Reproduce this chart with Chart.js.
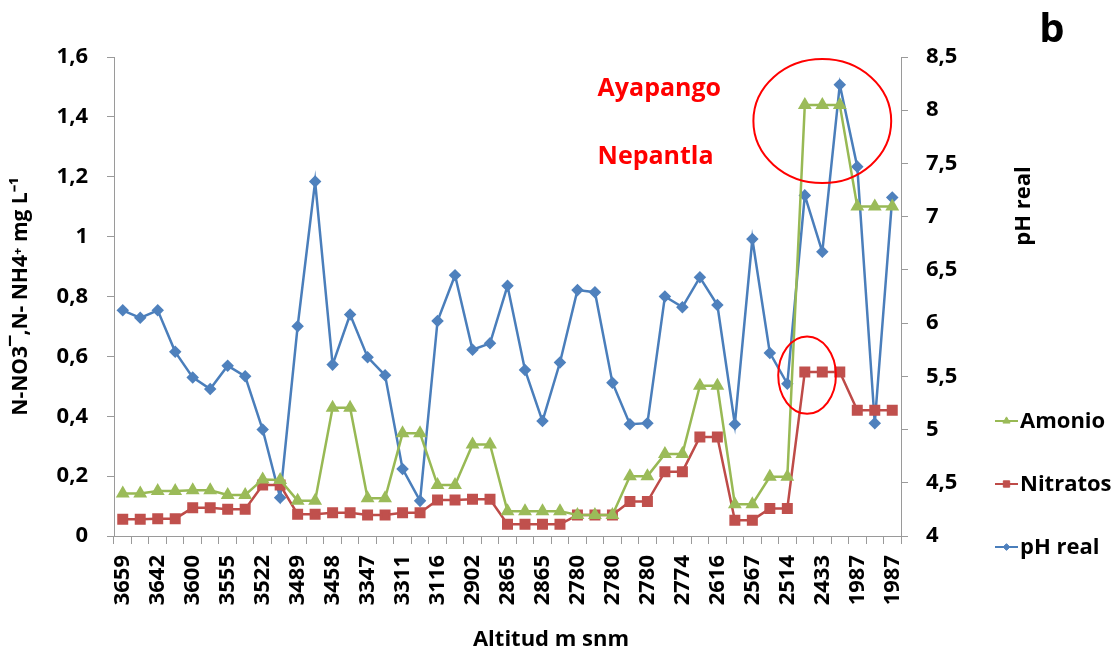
<!DOCTYPE html>
<html>
<head>
<meta charset="utf-8">
<script src="https://cdn.jsdelivr.net/npm/chart.js@4.4.1/dist/chart.umd.min.js"></script>
<style>html,body{margin:0;background:#fff}canvas{display:block}</style>
</head>
<body>
<canvas id="chart" width="1117" height="657"></canvas>
<script>
// altitud de cada punto de muestreo (solo se rotulan los pares)
const altitudes = ['3659','3659','3642','3642','3600','3600','3555','3555','3522','3522','3489','3489','3458','3458','3347','3347','3311','3311','3116','3116','2902','2902','2865','2865','2865','2865','2780','2780','2780','2780','2780','2780','2774','2774','2616','2616','2567','2567','2514','2514','2433','2433','1987','1987','1987'];
const amonio = [0.142,0.142,0.150,0.150,0.153,0.153,0.137,0.137,0.189,0.187,0.118,0.118,0.428,0.428,0.126,0.126,0.343,0.343,0.170,0.170,0.306,0.306,0.083,0.083,0.083,0.083,0.070,0.070,0.070,0.200,0.200,0.274,0.274,0.502,0.502,0.106,0.106,0.198,0.198,1.440,1.440,1.440,1.101,1.101,1.101];
const nitratos = [0.056,0.056,0.058,0.058,0.094,0.094,0.089,0.089,0.170,0.170,0.073,0.073,0.078,0.078,0.070,0.070,0.078,0.078,0.120,0.120,0.123,0.123,0.039,0.039,0.039,0.039,0.070,0.070,0.070,0.115,0.115,0.215,0.215,0.331,0.331,0.053,0.053,0.092,0.092,0.548,0.548,0.548,0.420,0.420,0.420];
const phReal = [6.12,6.05,6.12,5.73,5.49,5.38,5.60,5.50,5.00,4.36,5.97,7.33,5.61,6.08,5.68,5.51,4.63,4.33,6.02,6.45,5.75,5.81,6.35,5.56,5.08,5.63,6.31,6.29,5.44,5.05,5.06,6.25,6.15,6.43,6.17,5.05,6.79,5.72,5.43,7.20,6.67,8.24,7.47,5.06,7.18];

// elipses rojas: centro (índice, valor eje izq.) y radios
const circles = [[40,1.386,3.94,0.207],[39.13,0.537,1.65,0.129]];
const sites = [['Ayapango',27.15,1.495],['Nepantla',27.15,1.265]];

const FONT = '"Open Sans", sans-serif';
const comma = v => String(Math.round(v*10)/10).replace('.', ',');
const axisGray = '#9a9a9a';

const extras = {
  id: 'extras',
  afterDraw(chart){
    const ctx = chart.ctx, x = chart.scales.x, y = chart.scales.y;
    ctx.save();
    // elipses
    ctx.strokeStyle = '#ff0000'; ctx.lineWidth = 2;
    circles.forEach(([i,v,ri,rv]) => {
      const cx = x.getPixelForValue(i), cy = y.getPixelForValue(v);
      const rx = x.getPixelForValue(i+ri) - cx, ry = cy - y.getPixelForValue(v+rv);
      ctx.beginPath(); ctx.ellipse(cx, cy, rx, ry, 0, 0, Math.PI*2); ctx.stroke();
    });
    ctx.fillStyle = '#ff0000'; ctx.font = 'bold 25px ' + FONT;
    ctx.textAlign = 'left'; ctx.textBaseline = 'middle';
    sites.forEach(([t,i,v]) => ctx.fillText(t, x.getPixelForValue(i), y.getPixelForValue(v)));

    // títulos
    ctx.fillStyle = '#000';
    ctx.font = 'bold 22px ' + FONT; ctx.textAlign = 'center';
    ctx.fillText('Altitud m snm', 551, 640);
    ctx.save(); ctx.translate(1024, 206); ctx.rotate(-Math.PI/2);
    ctx.fillText('pH real', 0, 0); ctx.restore();
    ctx.font = 'bold 40px ' + FONT; ctx.textBaseline = 'alphabetic';
    ctx.fillText('b', 1052, 42);

    // leyenda
    ctx.font = 'bold 22px ' + FONT; ctx.textAlign = 'left'; ctx.textBaseline = 'middle';
    [0,1,2].forEach((d, k) => {
      const ds = chart.data.datasets[d], ly = 421 + k*63;
      ctx.strokeStyle = ds.borderColor; ctx.lineWidth = 2;
      ctx.beginPath(); ctx.moveTo(995, ly); ctx.lineTo(1018, ly); ctx.stroke();
      ctx.fillStyle = ds.pointBackgroundColor; ctx.strokeStyle = ds.pointBackgroundColor; ctx.lineWidth = 1;
      Chart.helpers.drawPoint(ctx, {pointStyle: ds.pointStyle, radius: ds.pointRadius*0.75, rotation: 0, borderWidth: 1}, 1006.5, ly);
      ctx.fillStyle = '#000';
      ctx.fillText(ds.label, 1020, ly + 1);
    });
    ctx.restore();
  }
};

new Chart(document.getElementById('chart'), {
  type: 'line',
  data: {
    labels: altitudes,
    datasets: [
      {label:'Amonio', data:amonio, yAxisID:'y', borderColor:'#98b954', backgroundColor:'#98b954', pointBackgroundColor:'#9bbb59', pointBorderColor:'#9bbb59', pointStyle:'triangle', pointRadius:5.5, borderWidth:2.5, tension:0},
      {label:'Nitratos', data:nitratos, yAxisID:'y', borderColor:'#be4b48', backgroundColor:'#be4b48', pointBackgroundColor:'#c0504d', pointBorderColor:'#c0504d', pointStyle:'rect', pointRadius:6, borderWidth:2.5, tension:0},
      {label:'pH real', data:phReal, yAxisID:'y1', borderColor:'#4a7ebb', backgroundColor:'#4a7ebb', pointBackgroundColor:'#4f81bd', pointBorderColor:'#4f81bd', pointStyle:'rectRot', pointRadius:4.5, borderWidth:2.5, tension:0}
    ]
  },
  options: {
    responsive: false,
    animation: false,
    layout: {padding: {top: 57, right: 136, bottom: 0, left: 0}},
    plugins: {legend: {display: false}, tooltip: {enabled: false}},
    scales: {
      x: {
        offset: true,
        grid: {offset: true, drawOnChartArea: false, tickLength: 8, color: axisGray},
        border: {color: axisGray},
        ticks: {autoSkip: false, minRotation: 90, maxRotation: 90, padding: 11, color: '#000',
          font: {family: FONT, size: 22, weight: 'bold'},
          callback: (v, i) => i % 2 === 0 ? altitudes[i] : ''},
        afterFit: s => { s.height = 121; }
      },
      y: {
        position: 'left', min: 0, max: 1.6,
        grid: {drawOnChartArea: false, tickLength: 7, color: axisGray},
        border: {color: axisGray},
        ticks: {stepSize: 0.2, padding: 19, color: '#000', font: {family: FONT, size: 22, weight: 'bold'}, callback: v => comma(v)},
        title: {display: true, text: 'N-NO3\u00af,N- NH4\u207a mg L\u207b\u00b9', color: '#000', padding: {top: 8, bottom: 0},
          font: {family: FONT, size: 21, weight: 'bold'}},
        afterFit: s => { s.width = 114; }
      },
      y1: {
        position: 'right', min: 4, max: 8.5,
        grid: {drawOnChartArea: false, tickLength: 7, color: axisGray},
        border: {color: axisGray},
        ticks: {stepSize: 0.5, padding: 18, color: '#000', font: {family: FONT, size: 22, weight: 'bold'}, callback: v => comma(v)},
        afterFit: s => { s.width = 80; }
      }
    }
  },
  plugins: [extras]
});
</script>
</body>
</html>
